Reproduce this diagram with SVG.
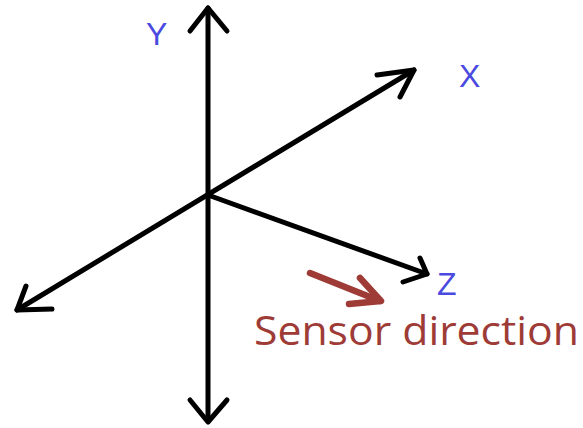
<svg xmlns="http://www.w3.org/2000/svg" width="583" height="428" viewBox="0 0 583 428">
<style>
.ax{fill:none;stroke:#000;stroke-width:5;stroke-linecap:round;stroke-linejoin:round}
.lbl{font-family:"Liberation Sans",Arial,sans-serif;font-size:32px;fill:#4a4ae0}
.red{fill:none;stroke:#9e3b36;stroke-width:6.5;stroke-linecap:round;stroke-linejoin:round}
</style>
<rect width="583" height="428" fill="#fff"/>
<g id="connectors">
<g id="y-axis">
<line class="ax" x1="208" y1="8" x2="208" y2="421"/>
<polyline class="ax" points="190,31 208,8 227,31"/>
<polyline class="ax" points="190,400 208,422 227,400"/>
</g>
<g id="x-axis">
<line class="ax" x1="17" y1="310" x2="414" y2="70"/>
<polyline class="ax" points="377,75 414,70 400,97"/>
<polyline class="ax" points="26,286 17,310 52,309"/>
</g>
<g id="z-axis">
<line class="ax" x1="208" y1="195" x2="427" y2="274"/>
<polyline class="ax" points="420,258 427,274 403,282"/>
</g>
<g id="sensor-arrow">
<line class="red" x1="310" y1="273" x2="380" y2="301"/>
<polyline class="red" points="360,278 381,301 349,304"/>
</g>
</g>
<g id="label-y"><text class="lbl" x="146" y="45">Y</text></g>
<g id="label-x"><text class="lbl" x="459" y="87">X</text></g>
<g id="label-z"><text class="lbl" x="437" y="295">Z</text></g>
<g id="label-sensor"><text x="254" y="345" font-family="'Open Sans','Liberation Sans',sans-serif" font-size="40" fill="#9e3b36" textLength="325" lengthAdjust="spacingAndGlyphs">Sensor direction</text></g>
</svg>
